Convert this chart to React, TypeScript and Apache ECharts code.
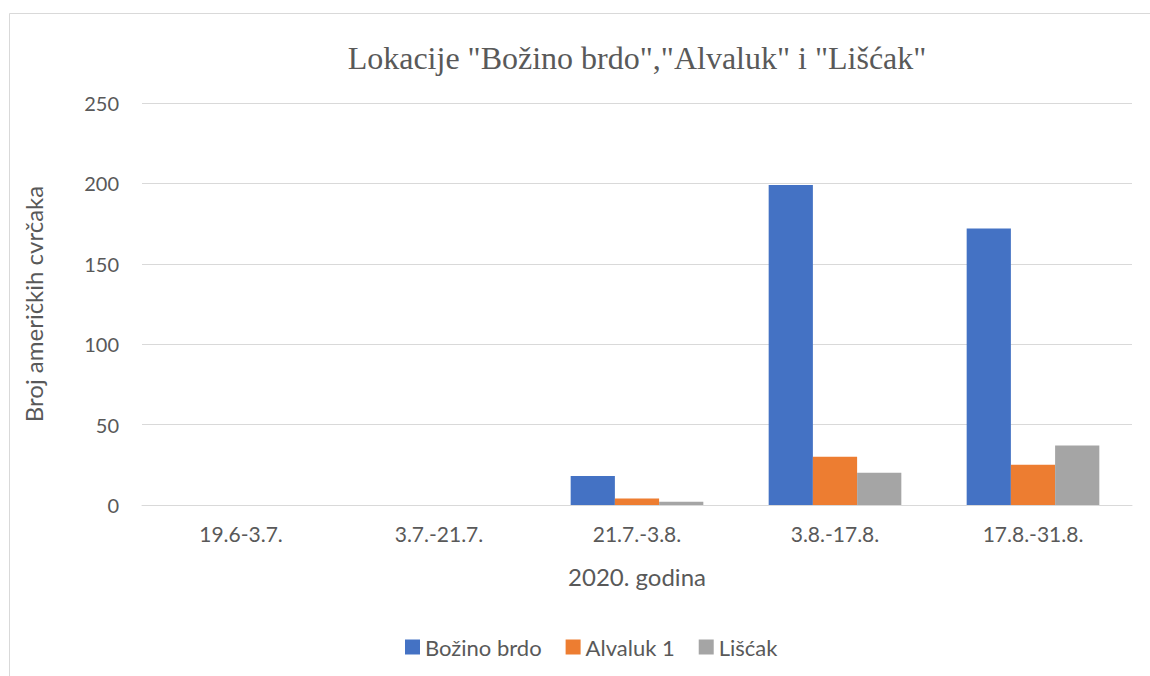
import React, { useEffect, useRef } from "react";
import * as echarts from "echarts";

const categories = ["19.6-3.7.", "3.7.-21.7.", "21.7.-3.8.", "3.8.-17.8.", "17.8.-31.8."];
const bozinoBrdo = [0, 0, 18, 199, 172];
const alvaluk1 = [0, 0, 4, 30, 25];
const liscak = [0, 0, 2, 20, 37];
const seriesNames = ["Božino brdo", "Alvaluk 1", "Lišćak"];
const colors = ["#4472C4", "#ED7D31", "#A5A5A5"];

export default function App() {
  const ref = useRef<HTMLDivElement>(null);
  useEffect(() => {
    document.body.style.margin = "0";
    const chart = echarts.init(ref.current!, undefined, { renderer: "svg" });
    const font = "Lato, 'Noto Sans', sans-serif";
    const values = [bozinoBrdo, alvaluk1, liscak];
    chart.setOption({
      animation: false,
      backgroundColor: "#ffffff",
      title: {
        text: 'Lokacije "Božino brdo","Alvaluk" i "Lišćak"',
        left: 632,
        top: 37,
        textAlign: "center",
        textStyle: {
          fontFamily: "'Liberation Serif', 'Times New Roman', serif",
          fontSize: 32,
          fontWeight: "normal",
          color: "#595959",
        },
      },
      graphic: [
        {
          type: "rect",
          shape: { x: 9.5, y: 13.5, width: 1150, height: 700 },
          style: { fill: "none", stroke: "#D9D9D9", lineWidth: 1 },
          silent: true,
        },
      ],
      legend: {
        top: 631,
        left: 400,
        itemWidth: 15,
        itemHeight: 15,
        itemGap: 24,
        icon: "rect",
        textStyle: { fontFamily: font, fontSize: 22, color: "#595959" },
        data: seriesNames,
      },
      grid: { left: 142, right: 18, top: 103, bottom: 171, containLabel: false },
      xAxis: {
        type: "category",
        data: categories,
        name: "2020. godina",
        nameLocation: "middle",
        nameGap: 59,
        nameTextStyle: { fontFamily: font, fontSize: 24, color: "#595959" },
        axisLine: { lineStyle: { color: "#D9D9D9", width: 1 } },
        axisTick: { show: false },
        axisLabel: { fontFamily: font, fontSize: 21, color: "#595959", margin: 18 },
      },
      yAxis: {
        type: "value",
        min: 0,
        max: 250,
        interval: 50,
        name: "Broj američkih cvrčaka",
        nameLocation: "middle",
        nameGap: 97,
        nameTextStyle: { fontFamily: font, fontSize: 24, color: "#595959" },
        axisLine: { show: false },
        axisTick: { show: false },
        axisLabel: { fontFamily: font, fontSize: 20, color: "#595959", margin: 23 },
        splitLine: { lineStyle: { color: "#D9D9D9", width: 1 } },
      },
      series: seriesNames.map((n, i) => ({
        name: n,
        type: "bar",
        data: values[i],
        barGap: "0%",
        barCategoryGap: "33%",
        itemStyle: { color: colors[i] },
      })),
    });
    return () => chart.dispose();
  }, []);
  return <div ref={ref} style={{ width: 1150, height: 676 }} />;
}
